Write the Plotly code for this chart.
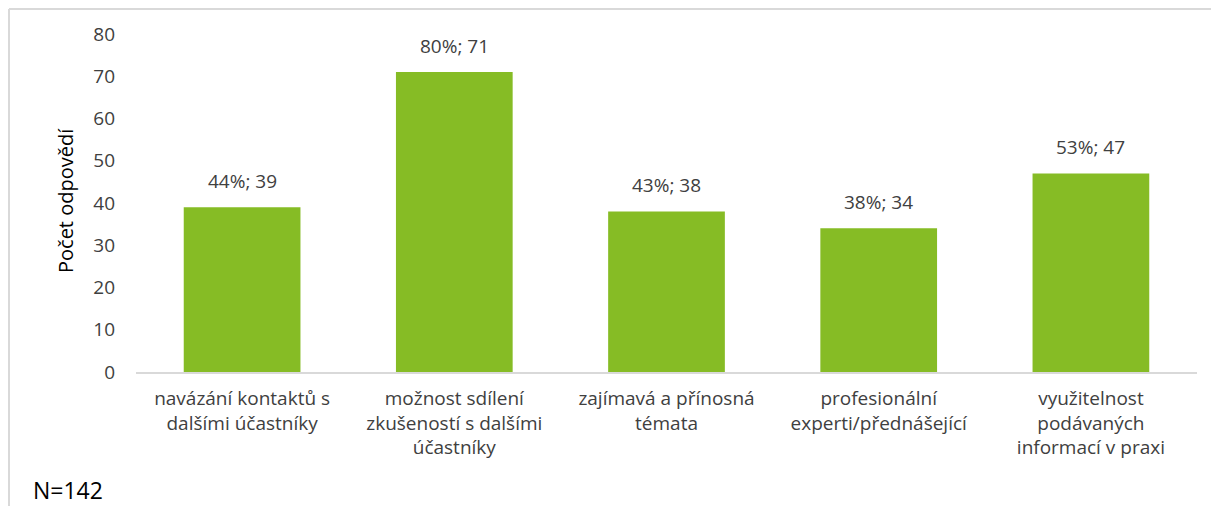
import plotly.graph_objects as go

# data
categories = [
    "navázání kontaktů s<br>dalšími účastníky",
    "možnost sdílení<br>zkušeností s dalšími<br>účastníky",
    "zajímavá a přínosná<br>témata",
    "profesionální<br>experti/přednášející",
    "využitelnost<br>podávaných<br>informací v praxi",
]
counts = [39, 71, 38, 34, 47]
percents = [44, 80, 43, 38, 53]
y_ticks = [0, 10, 20, 30, 40, 50, 60, 70, 80]

green = "#86BC25"
text_col = "#404040"
font_family = "'Open Sans', sans-serif"

# page body has an 8px margin, so the figure is a bit smaller than the window
W, H = 1211, 498
L, T, R, B = 128, 26, 22, 134
pw, ph = W - L - R, H - T - B

fig = go.Figure(go.Bar(
    x=categories,
    y=counts,
    marker=dict(color=green, line=dict(width=0)),
    width=0.55,
    hovertemplate="%{x}: %{y}<extra></extra>",
))

# data labels "pct%; count" above the bars
for cat, n, pct in zip(categories, counts, percents):
    fig.add_annotation(
        x=cat, y=n, text=f"{pct}%; {n}",
        yanchor="bottom", yshift=11, showarrow=False,
        font=dict(size=19, color=text_col, family=font_family),
    )

fig.update_layout(
    width=W,
    height=H,
    margin=dict(l=L, r=R, t=T, b=B, autoexpand=False),
    plot_bgcolor="white",
    paper_bgcolor="white",
    font=dict(family=font_family, size=19, color=text_col),
    showlegend=False,
)
fig.update_yaxes(
    range=[0, 80],
    tickvals=y_ticks,
    showgrid=False,
    zeroline=False,
    showline=False,
    ticks="",
    ticklabelstandoff=20,
)
fig.update_xaxes(
    showline=True,
    linecolor="#D9D9D9",
    linewidth=2,
    ticks="",
    showgrid=False,
    tickangle=0,
    ticklabelstandoff=8,
)

# y axis title
fig.add_annotation(
    text="Počet odpovědí", xref="paper", yref="paper",
    x=(57 - L) / pw, y=1 - (193 - T) / ph,
    xanchor="center", yanchor="middle", textangle=-90, showarrow=False,
    font=dict(size=20, color="#000000", family=font_family),
)

# outer chart border (left and top)
bx = (1 - L) / pw
by = 1 + (T - 1) / ph
fig.add_shape(type="line", xref="paper", yref="paper",
              x0=bx, x1=bx, y0=-0.5, y1=by,
              line=dict(color="#D9D9D9", width=2))
fig.add_shape(type="line", xref="paper", yref="paper",
              x0=bx, x1=1.1, y0=by, y1=by,
              line=dict(color="#D9D9D9", width=2))

fig.add_annotation(
    text="N=142", xref="paper", yref="paper",
    x=(23 - L) / pw, y=-(482 - (H - B)) / ph,
    xanchor="left", yanchor="middle", showarrow=False,
    font=dict(size=23, color="#000000", family=font_family),
)

fig.write_html("out.html")
